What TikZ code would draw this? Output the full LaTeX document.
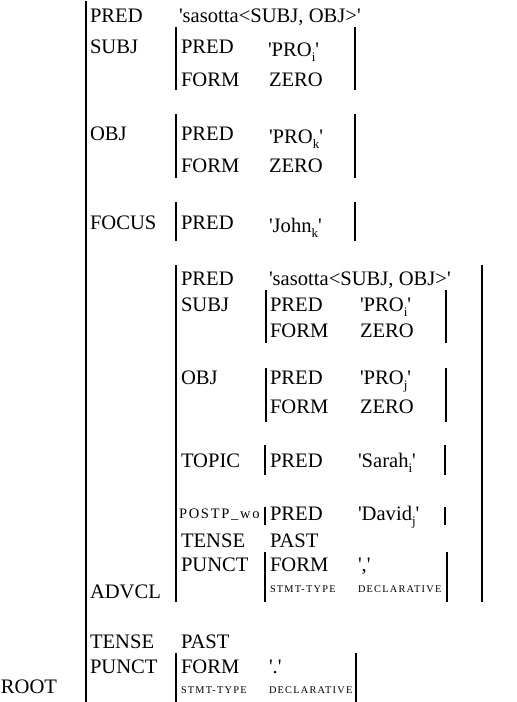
\documentclass[tikz,border=0pt]{standalone}
\usepackage{fontspec}
\setmainfont{Liberation Serif}
\newfontfamily\spacedfont[LetterSpace=12]{Liberation Serif}
\newcommand\qt[1]{\textquotesingle#1\textquotesingle}
\newcommand\sbs[1]{\raisebox{-0.28em}{\fontsize{13}{13}\selectfont #1}}
\newcommand\tinycap[1]{{\spacedfont\fontsize{10.3}{10.3}\selectfont #1}}
\tikzset{
  x=1pt, y=-1pt,
  lbl/.style={anchor=base west, inner sep=0pt, outer sep=0pt,
              font=\fontsize{20.6}{20.6}\selectfont},
  bar/.style={line width=2.7pt, line cap=butt},
}
% a pair of brackets for a feature structure: left x, right x, top y, bottom y
\newcommand\fsbars[4]{%
  \draw[bar] (#1,#3) -- (#1,#4);
  \ifx\relax#2\relax\else\draw[bar] (#2,#3) -- (#2,#4);\fi}
\begin{document}
\begin{tikzpicture}
\useasboundingbox (0,0) rectangle (517,702);

% outermost structure (ROOT)
\fsbars{86}{}{1}{702}
\node[lbl] (root) at (1,693) {ROOT};
\node[lbl] (pred0) at (90,22) {PRED};
\node[lbl] (pred0v) at (179,22) {\qt{sasotta<SUBJ, OBJ>}};

% SUBJ
\node[lbl] (subj0) at (90,53) {SUBJ};
\fsbars{176}{355}{27}{90}
\node[lbl] (subj0p) at (181,53) {PRED};
\node[lbl] (subj0pv) at (268,56) {\qt{PRO\sbs{i}}};
\node[lbl] (subj0f) at (181,86) {FORM};
\node[lbl] (subj0fv) at (269,86) {ZERO};

% OBJ
\node[lbl] (obj0) at (90,140) {OBJ};
\fsbars{176}{355}{114}{178}
\node[lbl] (obj0p) at (181,140) {PRED};
\node[lbl] (obj0pv) at (269,143) {\qt{PRO\sbs{k}}};
\node[lbl] (obj0f) at (181,172) {FORM};
\node[lbl] (obj0fv) at (269,172) {ZERO};

% FOCUS
\node[lbl] (focus) at (90,229) {FOCUS};
\fsbars{176}{355}{202}{241}
\node[lbl] (focusp) at (181,229) {PRED};
\node[lbl] (focuspv) at (269,232) {\qt{John\sbs{k}}};

% ADVCL
\fsbars{176}{482}{265}{602}
\node[lbl] (advcl) at (90,598) {ADVCL};
\node[lbl] (pred1) at (181,285) {PRED};
\node[lbl] (pred1v) at (269,285) {\qt{sasotta<SUBJ, OBJ>}};

\node[lbl] (subj1) at (181,311) {SUBJ};
\fsbars{266}{446}{290}{343}
\node[lbl] (subj1p) at (270,311) {PRED};
\node[lbl] (subj1pv) at (360,311) {\qt{PRO\sbs{i}}};
\node[lbl] (subj1f) at (270,337) {FORM};
\node[lbl] (subj1fv) at (360,337) {ZERO};

\node[lbl] (obj1) at (181,384) {OBJ};
\fsbars{266}{446}{368}{422}
\node[lbl] (obj1p) at (270,384) {PRED};
\node[lbl] (obj1pv) at (360,384) {\qt{PRO\sbs{j}}};
\node[lbl] (obj1f) at (270,413) {FORM};
\node[lbl] (obj1fv) at (360,413) {ZERO};

\node[lbl] (topic) at (181,467) {TOPIC};
\fsbars{265}{445}{445}{475}
\node[lbl] (topicp) at (270,467) {PRED};
\node[lbl] (topicpv) at (358,467) {\qt{Sarah\sbs{i}}};

\node[lbl, font={\spacedfont\fontsize{14.5}{14.5}\selectfont}] (postp) at (179,518) {POSTP\_wo};
\fsbars{265}{445}{507}{525}
\node[lbl] (postpp) at (270,520) {PRED};
\node[lbl] (postppv) at (358,520) {\qt{David\sbs{j}}};

\node[lbl] (tense1) at (181,547) {TENSE};
\node[lbl] (tense1v) at (270,547) {PAST};

\node[lbl] (punct1) at (181,571) {PUNCT};
\fsbars{265}{447}{552}{602}
\node[lbl] (punct1f) at (270,571) {FORM};
\node[lbl] (punct1fv) at (358,571) {\qt{,}};
\node[lbl] (punct1s) at (270,592) {\tinycap{STMT-TYPE}};
\node[lbl] (punct1sv) at (358,592) {\tinycap{DECLARATIVE}};

% TENSE and PUNCT of the main clause
\node[lbl] (tense0) at (90,648) {TENSE};
\node[lbl] (tense0v) at (181,648) {PAST};
\node[lbl] (punct0) at (90,673) {PUNCT};
\fsbars{176}{356}{653}{702}
\node[lbl] (punct0f) at (181,673) {FORM};
\node[lbl] (punct0fv) at (269,673) {\qt{.}};
\node[lbl] (punct0s) at (181,693) {\tinycap{STMT-TYPE}};
\node[lbl] (punct0sv) at (269,693) {\tinycap{DECLARATIVE}};
\end{tikzpicture}
\end{document}
